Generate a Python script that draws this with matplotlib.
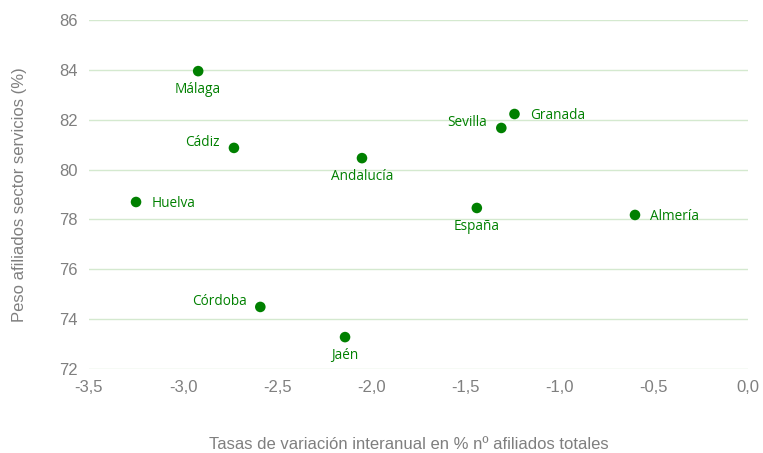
import matplotlib
matplotlib.use("Agg")
import matplotlib.pyplot as plt

names = ["Málaga", "Cádiz", "Huelva", "Andalucía", "Córdoba", "Jaén",
         "Sevilla", "Granada", "España", "Almería"]
x_vals = [-2.92, -2.73, -3.25, -2.05, -2.59, -2.14, -1.31, -1.24, -1.44, -0.60]
y_vals = [83.95, 80.87, 78.70, 80.46, 74.49, 73.28, 81.67, 82.23, 78.46, 78.18]
positions = ["below", "left", "right", "below", "left", "below",
             "left", "right", "below", "right"]
x_ticks = [-3.5, -3.0, -2.5, -2.0, -1.5, -1.0, -0.5, 0.0]
y_ticks = [72, 74, 76, 78, 80, 82, 84, 86]

green = "#008000"
grey = "#7f7f7f"

fig = plt.figure(figsize=(7.63, 4.53), dpi=100)
ax = fig.add_axes([0.1166, 0.1854, 0.8637, 0.7704])
ax.scatter(x_vals, y_vals, s=58, color=green, zorder=3, edgecolors="none")

offsets = {"below": (0, -13, "center", "center"),
           "left": (-10, 4, "right", "center"),
           "right": (11, -1, "left", "center")}
for n, xv, yv, p in zip(names, x_vals, y_vals, positions):
    dx, dy, ha, va = offsets[p]
    ax.annotate(n, (xv, yv), xytext=(dx, dy), textcoords="offset points",
                ha=ha, va=va, color=green, fontsize=9.8, family="Open Sans")

ax.set_xlim(-3.5, 0.0)
ax.set_ylim(72, 86)
ax.set_xticks(x_ticks)
ax.set_xticklabels([f"{t:.1f}".replace(".", ",") for t in x_ticks])
ax.set_yticks(y_ticks)
ax.set_yticklabels([str(t) for t in y_ticks])
ax.grid(axis="y", color="#d4e9cf", linewidth=1)
ax.set_axisbelow(True)
for s in ax.spines.values():
    s.set_visible(False)
ax.tick_params(length=0, colors=grey, labelsize=12, pad=8)
for lab in ax.get_xticklabels() + ax.get_yticklabels():
    lab.set_family("Liberation Sans")
ax.set_xlabel("Tasas de variación interanual en % nº afiliados totales",
              color=grey, fontsize=12, family="Liberation Sans", labelpad=30,
              x=0.486)
ax.set_ylabel("Peso afiliados sector servicios (%)", color=grey, fontsize=12,
              family="Liberation Sans", labelpad=23)
fig.savefig("out.png", dpi=100)
